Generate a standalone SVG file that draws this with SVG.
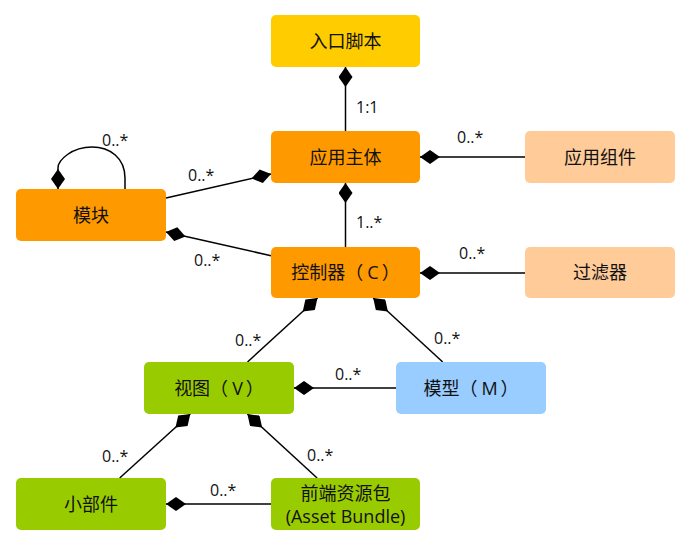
<svg xmlns="http://www.w3.org/2000/svg" width="691" height="547" viewBox="0 0 691 547">
<style>
.box{stroke:none}
.n{font-family:"Open Sans","Noto Sans CJK SC",sans-serif;font-size:18px;fill:#111;text-anchor:middle}
.l{font-family:"Open Sans","Noto Sans CJK SC",sans-serif;font-size:16px;fill:#111}
.c{fill:none;stroke:#000;stroke-width:1.5;marker-end:url(#dia)}
</style>
<defs>
<marker id="dia" viewBox="0 0 20 14" refX="20" refY="7" markerWidth="20" markerHeight="14" markerUnits="userSpaceOnUse" orient="auto">
<path d="M0,7 L10,0 L20,7 L10,14 Z" fill="#000"/>
</marker>
</defs>
<rect width="691" height="547" fill="#fff"/>
<g id="connectors">
<path class="c" d="M345.5,131 L345.5,67"/>
<path class="c" d="M525,157 L420,157"/>
<path class="c" d="M345.5,247 L345.5,183"/>
<path class="c" d="M525,273 L420,273"/>
<path class="c" d="M166,198 L271,174"/>
<path class="c" d="M271,255.7 L166,232"/>
<path class="c" d="M125,189 L125,178 C125,158 110,147 92,147 C72,147 58,160 58,168 L58,189"/>
<path class="c" d="M247.5,362 L317.5,298"/>
<path class="c" d="M442.7,362 L373.2,298"/>
<path class="c" d="M396,388 L294,388"/>
<path class="c" d="M119.7,478 L190.3,414"/>
<path class="c" d="M317.1,478 L247.4,414"/>
<path class="c" d="M271,504 L166,504"/>
<text class="l" x="356" y="113">1:1</text>
<text class="l" x="457" y="143">0..*</text>
<text class="l" x="356" y="228">1..*</text>
<text class="l" x="459" y="259">0..*</text>
<text class="l" x="102" y="146">0..*</text>
<text class="l" x="188" y="181">0..*</text>
<text class="l" x="194" y="266">0..*</text>
<text class="l" x="235" y="346">0..*</text>
<text class="l" x="434" y="344">0..*</text>
<text class="l" x="335" y="380">0..*</text>
<text class="l" x="102" y="462">0..*</text>
<text class="l" x="307" y="461">0..*</text>
<text class="l" x="210" y="496">0..*</text>
</g>
<g id="entry"><rect class="box" x="271" y="15" width="149" height="52" rx="5" fill="#FFCC00"/><text class="n" x="345.5" y="47.5">入口脚本</text></g>
<g id="app"><rect class="box" x="271" y="131" width="149" height="52" rx="5" fill="#FF9900"/><text class="n" x="345.5" y="163.5">应用主体</text></g>
<g id="component"><rect class="box" x="525" y="131" width="150" height="52" rx="5" fill="#FFCC99"/><text class="n" x="600" y="163.5">应用组件</text></g>
<g id="module"><rect class="box" x="16" y="189" width="150" height="52" rx="5" fill="#FF9900"/><text class="n" x="91" y="221.5">模块</text></g>
<g id="controller"><rect class="box" x="271" y="247" width="149" height="51" rx="5" fill="#FF9900"/><text class="n" x="345.5" y="279">控制器（<tspan dx="4">C</tspan><tspan dx="3">）</tspan></text></g>
<g id="filter"><rect class="box" x="525" y="247" width="150" height="51" rx="5" fill="#FFCC99"/><text class="n" x="600" y="279">过滤器</text></g>
<g id="view"><rect class="box" x="144" y="362" width="150" height="52" rx="5" fill="#99CC00"/><text class="n" x="219" y="394.5">视图（<tspan dx="4">V</tspan><tspan dx="3">）</tspan></text></g>
<g id="model"><rect class="box" x="396" y="362" width="150" height="52" rx="5" fill="#99CCFF"/><text class="n" x="471" y="394.5">模型（<tspan dx="4">M</tspan><tspan dx="3">）</tspan></text></g>
<g id="widget"><rect class="box" x="16" y="478" width="150" height="52" rx="5" fill="#99CC00"/><text class="n" x="91" y="510.5">小部件</text></g>
<g id="bundle"><rect class="box" x="271" y="478" width="149" height="52" rx="5" fill="#99CC00"/><text class="n" x="345.5" y="500">前端资源包</text><text class="n" x="345.5" y="523">(Asset Bundle)</text></g>
</svg>
